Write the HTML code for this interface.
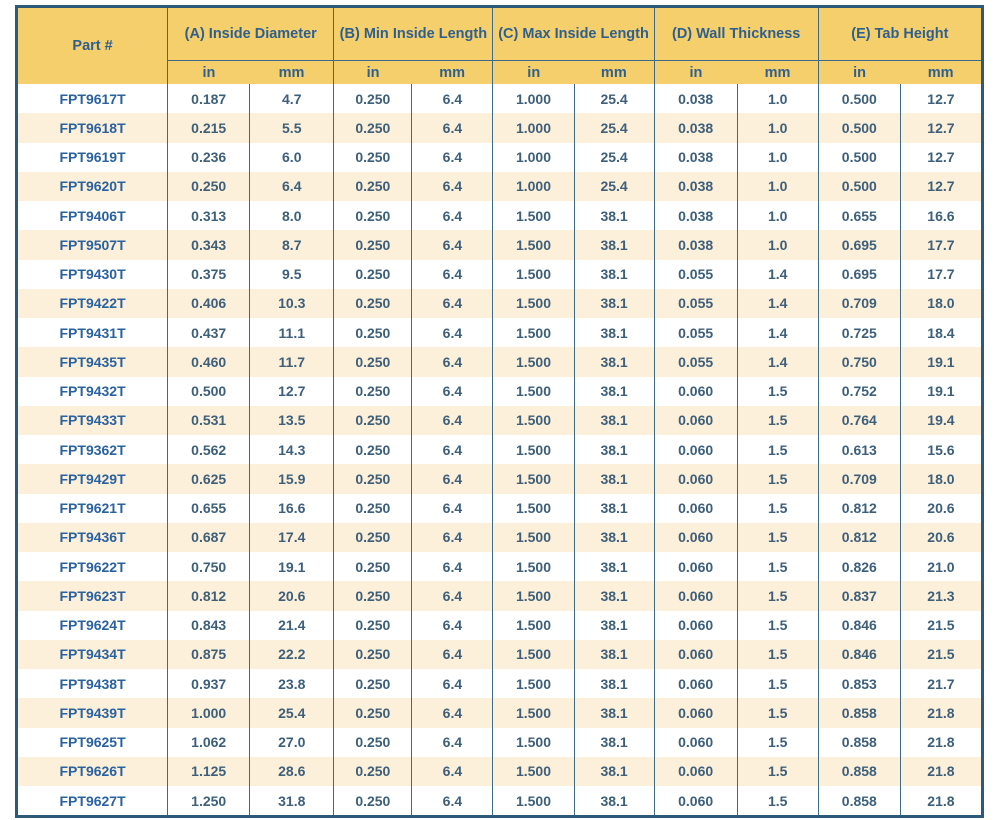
<!DOCTYPE html>
<html><head><style>
body{margin:0;background:#fff;width:1000px;height:820px;overflow:hidden;font-family:"Liberation Sans",sans-serif;}
table{position:absolute;left:15px;top:5px;border-collapse:collapse;border:3px solid #2d5a78;table-layout:fixed;width:969px}
td,th{padding:0;text-align:center;font-size:14px;}
th{background:#f5cf6c;color:#2f5f8e;font-weight:bold;font-size:14.5px}
.h1 th{height:52px;border-left:1.5px solid #3e6a88;}
.h1 th.g{border-bottom:1.5px solid #3e6a88}
.h2 th{height:23px;font-weight:bold;}
.h2 th.s{border-left:1.5px solid #3e6a88}
tbody td{height:29.25px;color:#3d5f7a;font-weight:bold;}
tbody td:first-child{color:#2a62a0}
tbody tr:nth-child(even) td{background:#fdf0da}
tbody td.s{border-left:1.5px solid #3e6a88}
tbody td.m{border-left:1.5px solid #3e6a88}
</style></head><body>
<table>
<colgroup><col style="width:151px"><col style="width:82px"><col style="width:84px"><col style="width:78px"><col style="width:81px"><col style="width:81px"><col style="width:80px"><col style="width:83px"><col style="width:81px"><col style="width:82px"><col style="width:82px"></colgroup>
<thead>
<tr class="h1"><th rowspan="2" style="border-left:none">Part #</th><th colspan="2" class="g">(A) Inside Diameter</th><th colspan="2" class="g">(B) Min Inside Length</th><th colspan="2" class="g">(C) Max Inside Length</th><th colspan="2" class="g">(D) Wall Thickness</th><th colspan="2" class="g">(E) Tab Height</th></tr>
<tr class="h2"><th class="s">in</th><th>mm</th><th class="s">in</th><th>mm</th><th class="s">in</th><th>mm</th><th class="s">in</th><th>mm</th><th class="s">in</th><th>mm</th></tr>
</thead>
<tbody id="b"></tbody>
</table>
<script>
var d=`FPT9617T 0.187 4.7 0.250 6.4 1.000 25.4 0.038 1.0 0.500 12.7
FPT9618T 0.215 5.5 0.250 6.4 1.000 25.4 0.038 1.0 0.500 12.7
FPT9619T 0.236 6.0 0.250 6.4 1.000 25.4 0.038 1.0 0.500 12.7
FPT9620T 0.250 6.4 0.250 6.4 1.000 25.4 0.038 1.0 0.500 12.7
FPT9406T 0.313 8.0 0.250 6.4 1.500 38.1 0.038 1.0 0.655 16.6
FPT9507T 0.343 8.7 0.250 6.4 1.500 38.1 0.038 1.0 0.695 17.7
FPT9430T 0.375 9.5 0.250 6.4 1.500 38.1 0.055 1.4 0.695 17.7
FPT9422T 0.406 10.3 0.250 6.4 1.500 38.1 0.055 1.4 0.709 18.0
FPT9431T 0.437 11.1 0.250 6.4 1.500 38.1 0.055 1.4 0.725 18.4
FPT9435T 0.460 11.7 0.250 6.4 1.500 38.1 0.055 1.4 0.750 19.1
FPT9432T 0.500 12.7 0.250 6.4 1.500 38.1 0.060 1.5 0.752 19.1
FPT9433T 0.531 13.5 0.250 6.4 1.500 38.1 0.060 1.5 0.764 19.4
FPT9362T 0.562 14.3 0.250 6.4 1.500 38.1 0.060 1.5 0.613 15.6
FPT9429T 0.625 15.9 0.250 6.4 1.500 38.1 0.060 1.5 0.709 18.0
FPT9621T 0.655 16.6 0.250 6.4 1.500 38.1 0.060 1.5 0.812 20.6
FPT9436T 0.687 17.4 0.250 6.4 1.500 38.1 0.060 1.5 0.812 20.6
FPT9622T 0.750 19.1 0.250 6.4 1.500 38.1 0.060 1.5 0.826 21.0
FPT9623T 0.812 20.6 0.250 6.4 1.500 38.1 0.060 1.5 0.837 21.3
FPT9624T 0.843 21.4 0.250 6.4 1.500 38.1 0.060 1.5 0.846 21.5
FPT9434T 0.875 22.2 0.250 6.4 1.500 38.1 0.060 1.5 0.846 21.5
FPT9438T 0.937 23.8 0.250 6.4 1.500 38.1 0.060 1.5 0.853 21.7
FPT9439T 1.000 25.4 0.250 6.4 1.500 38.1 0.060 1.5 0.858 21.8
FPT9625T 1.062 27.0 0.250 6.4 1.500 38.1 0.060 1.5 0.858 21.8
FPT9626T 1.125 28.6 0.250 6.4 1.500 38.1 0.060 1.5 0.858 21.8
FPT9627T 1.250 31.8 0.250 6.4 1.500 38.1 0.060 1.5 0.858 21.8`;
var h='';d.split('\n').forEach(function(l){var c=l.split(' ');h+='<tr>';c.forEach(function(v,i){h+='<td'+(i==0?'':(i%2?' class="s"':' class="m"'))+'>'+v+'</td>'});h+='</tr>'});
document.getElementById('b').innerHTML=h;
</script>
</body></html>
